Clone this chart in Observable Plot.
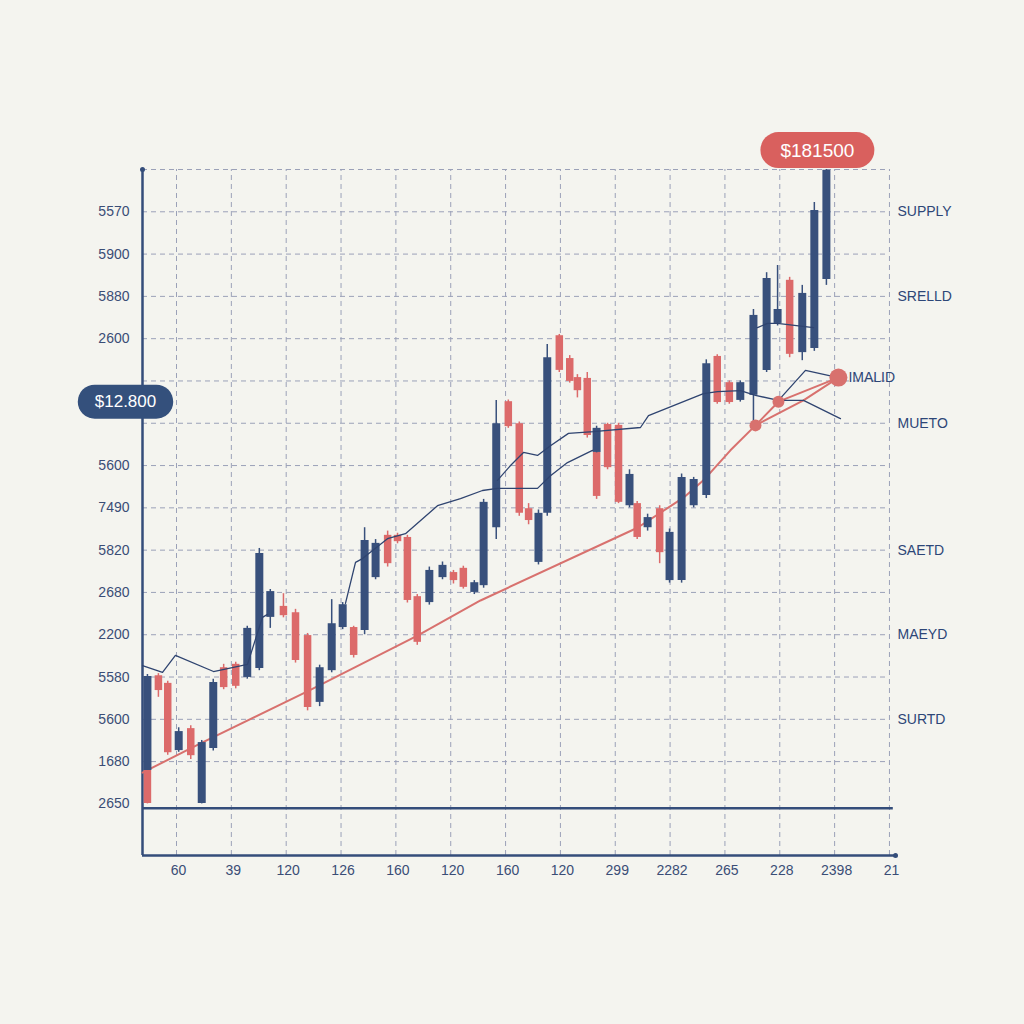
<!DOCTYPE html>
<html><head><meta charset="utf-8">
<script src="https://cdn.jsdelivr.net/npm/d3@7"></script>
<script src="https://cdn.jsdelivr.net/npm/@observablehq/plot@0.6"></script>
<style>
html,body{margin:0;padding:0;background:#f4f4ef;}
#chart svg{display:block;}
</style></head><body><div id="chart"></div>
<script>
// ---- tick labels ----
const xTicks = [1,2,3,4,5,6,7,8,9,10,11,12,13,14];
const xLabels = ["60","39","120","126","160","120","160","120","299","2282","265","228","2398","21"];
const yTicks = [14,13,12,11,8,7,6,5,4,3,2,1,0];
const yLabels = ["5570","5900","5880","2600","5600","7490","5820","2680","2200","5580","5600","1680","2650"];
const gridLevels = [1,2,3,4,5,6,7,8,9,10,11,12,13,14,15];
const sideNames = ["SUPPLY","SRELLD","MUETO","SAETD","MAEYD","SURTD"];
const sideLevels = [14,12,9,6,4,2];

// ---- candles ----
const candleX = [0.47,0.47,0.67,0.84,1.04,1.26,1.46,1.67,1.86,2.08,2.29,2.51,2.71,2.95,3.17,3.39,3.61,3.83,4.03,4.23,4.43,4.63,4.85,5.03,5.21,5.39,5.61,5.85,6.05,6.23,6.43,6.60,6.83,7.05,7.25,7.42,7.60,7.76,7.98,8.17,8.31,8.49,8.66,8.66,8.86,9.06,9.26,9.40,9.59,9.81,9.99,10.21,10.43,10.66,10.86,11.08,11.28,11.52,11.76,11.96,12.18,12.41,12.63,12.85];
const candleOpen = [0.79,0.79,3.03,2.85,1.26,1.78,0.01,1.31,3.22,3.30,2.99,3.20,4.41,4.67,4.52,3.98,2.40,3.15,4.17,4.17,4.10,5.35,6.35,6.35,6.30,4.90,4.76,5.35,5.47,5.57,5.00,5.16,6.53,9.51,8.99,6.98,5.71,6.87,11.07,10.53,10.08,10.06,8.31,8.31,8.97,8.95,7.05,7.10,6.53,6.98,5.28,5.28,7.05,7.29,10.58,9.96,9.54,9.66,10.25,11.36,12.38,10.67,10.77,12.40];
const candleClose = [3.01,0.01,2.68,1.21,1.71,1.14,1.45,2.87,2.75,2.78,4.15,5.92,5.02,4.45,3.39,2.28,3.22,4.26,4.71,3.51,6.23,6.16,5.68,6.20,4.81,3.82,5.52,5.64,5.28,5.12,5.23,7.13,8.99,8.92,6.87,6.70,6.87,10.55,10.25,9.99,9.77,8.71,7.27,8.88,7.95,7.13,7.79,6.30,6.77,5.94,6.42,7.72,7.67,10.41,9.49,9.49,9.96,11.55,12.42,11.69,10.63,12.07,14.03,14.98];
const candleHigh = [3.06,0.79,3.08,2.90,1.80,1.85,1.50,2.95,3.30,3.35,4.20,6.04,5.07,4.97,4.60,4.03,3.28,4.83,4.76,4.20,6.53,6.25,6.45,6.40,6.35,4.95,5.60,5.72,5.52,5.62,5.28,7.20,9.54,9.55,9.03,7.10,6.95,10.86,11.10,10.60,10.15,10.20,8.31,8.93,9.00,9.00,7.90,7.15,6.85,7.05,6.50,7.80,7.72,10.50,10.62,10.00,10.00,11.69,12.56,12.73,12.45,12.26,14.22,15.00];
const candleLow = [0.79,0.00,2.52,1.15,1.22,1.05,0.00,1.25,2.70,2.72,2.95,3.15,4.15,4.40,3.33,2.20,2.30,3.10,4.12,3.45,4.00,5.30,5.60,6.15,4.75,3.75,4.70,5.30,5.20,5.08,4.95,5.10,6.25,8.88,6.80,6.60,5.65,6.80,10.20,9.95,9.60,8.65,7.20,8.30,7.90,7.10,7.00,6.25,6.45,5.68,5.22,5.22,7.00,7.22,9.45,9.45,9.50,8.95,10.20,11.30,10.55,10.48,10.70,12.26];

// ---- moving-average (dark) line segments ----
const maX = [0.38,0.745,0.98,1.675,2.294,2.568,2.659,
  4.081,4.264,4.391,4.847,5.175,5.759,6.178,6.579,6.852,7.582,7.819,8.129,8.585,
  6.852,7.09,7.327,7.582,7.819,8.147,8.603,9.46,9.606,10.608,10.864,11.283,11.557,11.976,12.432,13.106,
  11.593,11.775,11.958,12.614,
  11.976,12.468,13.069];
const maY = [3.27,3.11,3.51,3.13,3.30,4.41,4.48,
  4.74,5.71,5.80,6.27,6.39,7.05,7.22,7.41,7.46,7.46,7.76,8.07,8.36,
  7.65,8.00,8.31,8.24,8.47,8.76,8.80,8.90,9.18,9.70,9.75,9.77,9.66,9.54,9.54,9.11,
  11.26,11.36,11.36,11.26,
  9.54,10.25,10.08];
const maSeg = [1,1,1,1,1,1,1, 2,2,2,2,2,2,2,2,2,2,2,2,2, 3,3,3,3,3,3,3,3,3,3,3,3,3,3,3,3, 4,4,4,4, 5,5,5];

// ---- red trend line ----
const trendX = [0.38,1.438,3.388,5.394,6.543,9.405,10.244,10.608,11.10,11.557,11.976,13.069];
const trendY = [0.74,1.43,2.66,3.98,4.81,6.53,7.24,7.65,8.36,8.95,9.51,10.08];
const branchX = [11.557,12.432,13.069];
const branchY = [8.95,9.54,10.08];
const markerX = [11.557,11.976];
const markerY = [8.95,9.51];
const endX = [13.069];
const endY = [10.08];
const endLabel = "IMALID";

// ---- badges ----
const badgeLow = {text: "$12.800", level: 9.51};
const badgeHigh = {text: "$181500"};

const X0 = 0.38, X1 = 14.11, Y0 = -1.22, Y1 = 15, BASE = -0.1;
const blue = "#38507c", red = "#dc6a6a", axisColor = "#344d7a", gridColor = "#9ba1b8", textColor = "#3a4d76";

const candles = candleX.map((x, i) => ({x, open: candleOpen[i], close: candleClose[i], high: candleHigh[i], low: candleLow[i]}));
const ups = candles.filter(d => d.close >= d.open);
const downs = candles.filter(d => d.close < d.open);
const ma = maX.map((x, i) => ({x, y: maY[i], seg: maSeg[i]}));
const trend = trendX.map((x, i) => ({x, y: trendY[i]}));
const branch = branchX.map((x, i) => ({x, y: branchY[i]}));
const markers = markerX.map((x, i) => ({x, y: markerY[i]}));
const ends = endX.map((x, i) => ({x, y: endY[i]}));
const sides = sideNames.map((t, i) => ({t, y: sideLevels[i]}));

const font = "Liberation Sans, Arial, Helvetica, sans-serif";

const chart = Plot.plot({
  width: 1024, height: 1024,
  marginLeft: 142, marginRight: 129, marginTop: 169, marginBottom: 169,
  style: {background: "#f4f4ef", fontFamily: font, overflow: "visible"},
  x: {domain: [X0, X1], axis: null},
  y: {domain: [Y0, Y1], axis: null},
  marks: [
    Plot.ruleX(xTicks, {x: d => d, y1: Y0, y2: Y1, stroke: gridColor, strokeWidth: 1, strokeDasharray: "5,4"}),
    Plot.ruleY(gridLevels, {y: d => d, x1: X0, x2: 14, stroke: gridColor, strokeWidth: 1, strokeDasharray: "5,4"}),
    Plot.ruleY([BASE], {x1: X0, x2: 14.07, stroke: axisColor, strokeWidth: 2.5}),
    Plot.ruleY([Y0], {x1: X0, x2: 14.11, stroke: axisColor, strokeWidth: 2.5}),
    Plot.ruleX([X0], {y1: Y0, y2: Y1, stroke: axisColor, strokeWidth: 2.5}),
    Plot.dot([[X0, Y1], [14.11, Y0]], {x: d => d[0], y: d => d[1], r: 2.5, fill: axisColor}),
    // red trend
    Plot.line(trend, {x: "x", y: "y", stroke: "#d8716e", strokeWidth: 2}),
    Plot.line(branch, {x: "x", y: "y", stroke: "#d8716e", strokeWidth: 2}),
    // candles
    Plot.ruleX(downs, {x: "x", y1: "low", y2: "high", stroke: red, strokeWidth: 1.5}),
    Plot.ruleX(downs, {x: "x", y1: "open", y2: "close", stroke: red, strokeWidth: 7.5}),
    Plot.ruleX(ups, {x: "x", y1: "low", y2: "high", stroke: blue, strokeWidth: 1.5}),
    Plot.ruleX(ups, {x: "x", y1: "open", y2: "close", stroke: blue, strokeWidth: 8}),
    // moving averages
    Plot.line(ma, {x: "x", y: "y", z: "seg", stroke: "#2f4470", strokeWidth: 1.3}),
    Plot.dot(markers, {x: "x", y: "y", r: 6, fill: "#d8716e"}),
    Plot.dot(ends, {x: "x", y: "y", r: 9, fill: "#d8716e"}),
    // labels
    Plot.text(yTicks, {x: X0, y: d => d, text: (d, i) => yLabels[i], dx: -13, textAnchor: "end", fontSize: 14, fill: textColor}),
    Plot.text(xTicks, {x: d => d, y: Y0, text: (d, i) => xLabels[i], dx: 2, dy: 15, fontSize: 14, fill: textColor}),
    Plot.text(sides, {x: 14, y: "y", text: "t", dx: 8, textAnchor: "start", fontSize: 14, fill: "#2d4677"}),
    Plot.text(ends, {x: "x", y: "y", text: () => endLabel, dx: 10, textAnchor: "start", fontSize: 14, fill: "#2d4677"}),
    Plot.text([badgeLow], {x: X0, y: "level", text: "text", dx: -17, fontSize: 17, fill: "white", className: "badge-low"}),
    Plot.text([badgeHigh], {x: candleX[candleX.length - 1], y: Y1, text: "text", dx: -9, dy: -19, fontSize: 19, fill: "white", className: "badge-high"})
  ]
});

document.getElementById("chart").appendChild(chart);

function pill(cls, color, padX, h) {
  d3.select(chart).selectAll("g." + cls + " text").each(function() {
    const b = this.getBBox();
    const cy = b.y + b.height / 2;
    const r = d3.select(this.parentNode).insert("rect", () => this)
      .attr("x", b.x - padX).attr("y", cy - h / 2)
      .attr("width", b.width + 2 * padX).attr("height", h)
      .attr("rx", h / 2).attr("fill", color);
    const t = this.getAttribute("transform");
    if (t) r.attr("transform", t);
  });
}
pill("badge-low", "#34507c", 17, 34);
pill("badge-high", "#d9605e", 20, 36);
</script></body></html>
